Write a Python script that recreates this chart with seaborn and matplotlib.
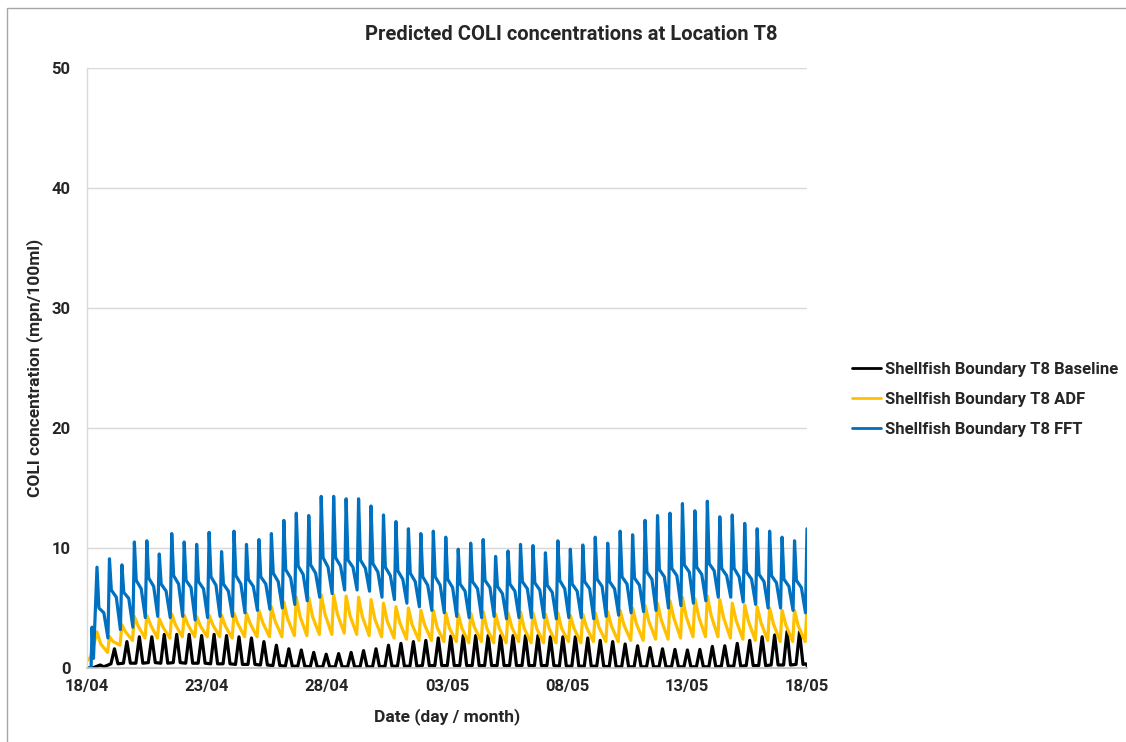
import matplotlib
matplotlib.use("Agg")
import matplotlib.pyplot as plt
from matplotlib.patches import Rectangle
import numpy as np
import pandas as pd
import seaborn as sns

# ---------------- data ----------------
series_names = ["Shellfish Boundary T8 Baseline",
                "Shellfish Boundary T8 ADF",
                "Shellfish Boundary T8 FFT"]
series_colors = ["#000000", "#FFC000", "#0070C0"]

x_tick_days = [0, 5, 10, 15, 20, 25, 30]
x_tick_labels = ["18/04", "23/04", "28/04", "03/05", "08/05", "13/05", "18/05"]
y_ticks = [0, 10, 20, 30, 40, 50]

tide_period_days = 0.519          # semi-diurnal cycle
first_peak_day = 10 / 24

# FFT (blue): peak, two shoulder levels and trough of each tidal cycle
fft_peaks = [8.4, 9.1, 8.6, 10.5, 10.6, 9.5, 11.2, 10.5, 10.3, 11.3,
             9.7, 11.4, 10.3, 10.7, 11.2, 12.3, 12.9, 12.7, 14.3,
             14.3, 14.1, 14.1, 13.5, 12.75, 12.2, 11.6, 11.2, 11.4, 10.9,
             9.9, 10.4, 10.7, 9.3, 9.75, 10.3, 10.2, 9.6, 10.6,
             9.9, 10.25, 10.9, 10.4, 11.4, 11.1, 12.3, 12.7, 12.9, 13.7,
             13.1, 13.9, 12.6, 12.75, 12.05, 11.6, 11.4, 10.9, 10.6, 11.6]
fft_shoulders = [5.0, 6.5, 6.3, 7.3, 7.5, 7.0, 7.7, 7.3, 7.2, 7.6,
                 7.0, 7.7, 7.4, 7.6, 7.9, 8.2, 8.5, 8.6, 9.2,
                 9.2, 9.0, 9.0, 8.7, 8.4, 8.1, 7.9, 7.6, 7.6, 7.4,
                 7.0, 7.2, 7.3, 6.8, 7.0, 7.2, 7.1, 6.9, 7.3,
                 7.0, 7.2, 7.4, 7.2, 7.6, 7.5, 8.0, 8.2, 8.3, 8.6,
                 8.4, 8.7, 8.3, 8.3, 8.0, 7.8, 7.7, 7.4, 7.3]
fft_shoulders_late = [4.6, 5.9, 5.8, 6.6, 6.8, 6.4, 7.0, 6.7, 6.6, 6.9,
                      6.4, 7.0, 6.8, 7.0, 7.2, 7.5, 7.8, 7.9, 8.4,
                      8.5, 8.4, 8.3, 8.0, 7.7, 7.4, 7.2, 6.9, 6.9, 6.7,
                      6.4, 6.6, 6.7, 6.2, 6.4, 6.6, 6.5, 6.3, 6.6,
                      6.4, 6.6, 6.8, 6.6, 7.0, 6.9, 7.4, 7.6, 7.7, 8.0,
                      7.8, 8.1, 7.7, 7.6, 7.4, 7.2, 7.1, 6.8, 6.7]
fft_troughs = [2.5, 3.2, 3.4, 4.2, 4.3, 4.2, 4.3, 4.0, 4.2, 4.3,
               4.3, 4.6, 4.8, 4.9, 5.0, 5.3, 5.6, 5.9, 6.2,
               6.5, 6.5, 6.4, 5.9, 5.7, 5.4, 5.1, 4.8, 4.6, 4.3,
               4.2, 4.2, 4.3, 4.1, 4.2, 4.2, 4.2, 4.1, 4.2,
               4.2, 4.1, 4.3, 4.4, 4.6, 4.7, 4.8, 5.0, 5.2, 5.4,
               5.6, 5.9, 5.9, 5.5, 5.3, 5.0, 5.0, 4.8, 4.6]
fft_start_days = [0.0, 0.17, 0.21, 0.27]
fft_start_vals = [0.0, 0.0, 3.4, 0.8]

# ADF (yellow)
adf_peaks = [3.0, 2.6, 3.6, 4.3, 4.4, 4.1, 4.5, 4.4, 4.3, 4.4,
             4.4, 4.55, 4.55, 4.8, 5.1, 5.5, 5.9, 5.9, 6.1,
             6.1, 6.0, 5.9, 5.7, 5.4, 5.1, 5.0, 4.8, 4.8, 4.6,
             4.5, 4.6, 4.7, 4.5, 4.6, 4.7, 4.6, 4.5, 4.6,
             4.4, 4.5, 4.6, 4.7, 4.8, 5.0, 5.2, 5.4, 5.6, 5.9,
             5.8, 6.0, 5.7, 5.4, 5.25, 5.1, 5.0, 4.8, 4.8, 5.0]
adf_shoulders = [2.0, 2.2, 3.0, 3.5, 3.6, 3.4, 3.6, 3.6, 3.5, 3.6,
                 3.5, 3.7, 3.7, 3.8, 3.9, 4.1, 4.3, 4.3, 4.5,
                 4.5, 4.4, 4.3, 4.1, 3.9, 3.8, 3.6, 3.6, 3.4, 3.3,
                 3.3, 3.4, 3.3, 3.3, 3.4, 3.3, 3.3, 3.3, 3.3,
                 3.3, 3.4, 3.4, 3.5, 3.6, 3.7, 3.9, 4.0, 4.2, 4.3,
                 4.3, 4.4, 4.2, 4.0, 3.9, 3.8, 3.7, 3.6, 3.5]
adf_troughs = [1.3, 1.9, 2.3, 2.5, 2.5, 2.5, 2.6, 2.6, 2.6, 2.6,
               2.5, 2.6, 2.6, 2.6, 2.6, 2.7, 2.7, 2.8, 2.8,
               2.9, 2.8, 2.7, 2.6, 2.5, 2.4, 2.3, 2.3, 2.2, 2.2,
               2.1, 2.2, 2.1, 2.1, 2.2, 2.1, 2.1, 2.1, 2.2,
               2.1, 2.2, 2.2, 2.2, 2.3, 2.3, 2.4, 2.4, 2.5, 2.6,
               2.6, 2.6, 2.5, 2.4, 2.3, 2.3, 2.2, 2.2, 2.2]
adf_start_days = [0.0, 0.15]
adf_start_vals = [0.6, 0.9]

# Baseline (black)
base_peaks = [1.6, 2.2, 2.6, 2.6, 2.8, 2.8, 2.8, 2.7, 2.8, 2.7,
              2.6, 2.5, 2.2, 1.9, 1.6, 1.5, 1.3, 1.15, 1.2, 1.3,
              1.45, 1.6, 1.9, 2.05, 2.2, 2.3, 2.5, 2.65, 2.7, 2.7,
              2.7, 2.7, 2.7, 2.7, 2.7, 2.6, 2.6, 2.6, 2.5, 2.3,
              2.2, 2.0, 1.85, 1.7, 1.6, 1.55, 1.5, 1.55, 1.8, 1.85,
              2.05, 2.3, 2.6, 2.75, 3.05, 3.0]
base_lows = [0.35, 0.4, 0.4, 0.45, 0.4, 0.45, 0.4, 0.4, 0.35, 0.35,
             0.3, 0.3, 0.25, 0.2, 0.15, 0.15, 0.1, 0.1, 0.1, 0.1,
             0.1, 0.1, 0.15, 0.15, 0.15, 0.2, 0.2, 0.2, 0.2, 0.2,
             0.2, 0.2, 0.2, 0.2, 0.2, 0.2, 0.15, 0.15, 0.15, 0.15,
             0.1, 0.1, 0.1, 0.1, 0.1, 0.1, 0.1, 0.1, 0.1, 0.15,
             0.15, 0.2, 0.2, 0.25, 0.25, 0.3]
base_start_days = [0.0, 0.3, 0.55, 0.7]
base_start_vals = [0.0, 0.05, 0.25, 0.1]
base_end_days = [29.95, 30.0]
base_end_vals = [0.35, 0.2]

# ---------------- build long table ----------------
def tidal_series(start_d, start_v, peaks, level_lists, phases):
    d, v = list(start_d), list(start_v)
    for k, p in enumerate(peaks):
        t = first_peak_day + k * tide_period_days
        d.append(t); v.append(p)
        if k < len(level_lists[0]):
            for lst, ph in zip(level_lists, phases):
                d.append(t + ph * tide_period_days); v.append(lst[k])
    return d, v

def baseline_series():
    d, v = list(base_start_days), list(base_start_vals)
    for j, p in enumerate(base_peaks):
        tp = first_peak_day + (j + 1.4) * tide_period_days
        d += [tp - 0.28 * tide_period_days, tp, tp + 0.28 * tide_period_days]
        v += [base_lows[j], p, base_lows[j]]
    d += base_end_days
    v += base_end_vals
    return d, v

frames = []
bd, bv = baseline_series()
frames.append(pd.DataFrame({"day": bd, "value": bv, "series": series_names[0]}))
ad, av = tidal_series(adf_start_days, adf_start_vals, adf_peaks,
                      [adf_shoulders, adf_troughs], [0.3, 0.85])
frames.append(pd.DataFrame({"day": ad, "value": av, "series": series_names[1]}))
fd, fv = tidal_series(fft_start_days, fft_start_vals, fft_peaks,
                      [fft_shoulders, fft_shoulders_late, fft_troughs], [0.15, 0.55, 0.88])
frames.append(pd.DataFrame({"day": fd, "value": fv, "series": series_names[2]}))
df = pd.concat(frames, ignore_index=True)

# ---------------- plot ----------------
sns.set_theme(style="white")
plt.rcParams["font.family"] = ["Roboto", "DejaVu Sans"]

W, H = 1126, 742
fig = plt.figure(figsize=(W / 100, H / 100), dpi=100)
ax = fig.add_axes([87 / W, 1 - 668 / H, 720 / W, 600 / H])

sns.lineplot(data=df, x="day", y="value", hue="series", hue_order=series_names,
             palette=series_colors, estimator=None, sort=False, linewidth=2.3,
             ax=ax)

ax.set_xlim(0, 30)
ax.set_ylim(0, 50)
ax.set_xticks(x_tick_days)
ax.set_xticklabels(x_tick_labels)
ax.set_yticks(y_ticks)
ax.tick_params(axis="both", length=0, labelsize=12, colors="#262626")
ax.tick_params(axis="y", pad=12)
ax.tick_params(axis="x", pad=8)
for lab in ax.get_xticklabels() + ax.get_yticklabels():
    lab.set_fontweight("bold")

ax.grid(axis="y", color="#D9D9D9", linewidth=1)
ax.grid(axis="x", visible=False)
ax.set_axisbelow(True)
for s in ["top", "right"]:
    ax.spines[s].set_visible(False)
ax.spines["left"].set_color("#D9D9D9")
ax.spines["bottom"].set_color("#BFBFBF")
ax.spines["left"].set_linewidth(1)
ax.spines["bottom"].set_linewidth(1.2)

ax.set_xlabel("Date (day / month)", fontsize=12.5, fontweight="bold", color="#262626")
ax.set_ylabel("COLI concentration (mpn/100ml)", fontsize=12.5, fontweight="bold", color="#262626")
ax.xaxis.set_label_coords(0.5, -0.066)
ax.yaxis.set_label_coords(-0.061, 0.5)

fig.text(571 / W, 1 - 35 / H, "Predicted COLI concentrations at Location T8",
         ha="center", va="center", fontsize=14.5, fontweight="bold", color="#262626")

sns.move_legend(ax, "center left", bbox_to_anchor=(1.062, 0.448), frameon=False,
                title=None, prop={"size": 12, "weight": "bold"},
                handlelength=1.75, handletextpad=0.25, labelspacing=0.9,
                borderpad=0, borderaxespad=0)
leg = ax.get_legend()
for line in leg.get_lines():
    line.set_linewidth(2.0)
for txt in leg.get_texts():
    txt.set_color("#262626")

# chart-area border (top and left edges visible in the reference)
fig.patches.append(Rectangle((7 / W, -0.05), 1.2, 1 - 8 / H + 0.05,
                             transform=fig.transFigure, fill=False,
                             edgecolor="#A6A6A6", linewidth=1))

fig.savefig("out.png", dpi=100, facecolor="white")
